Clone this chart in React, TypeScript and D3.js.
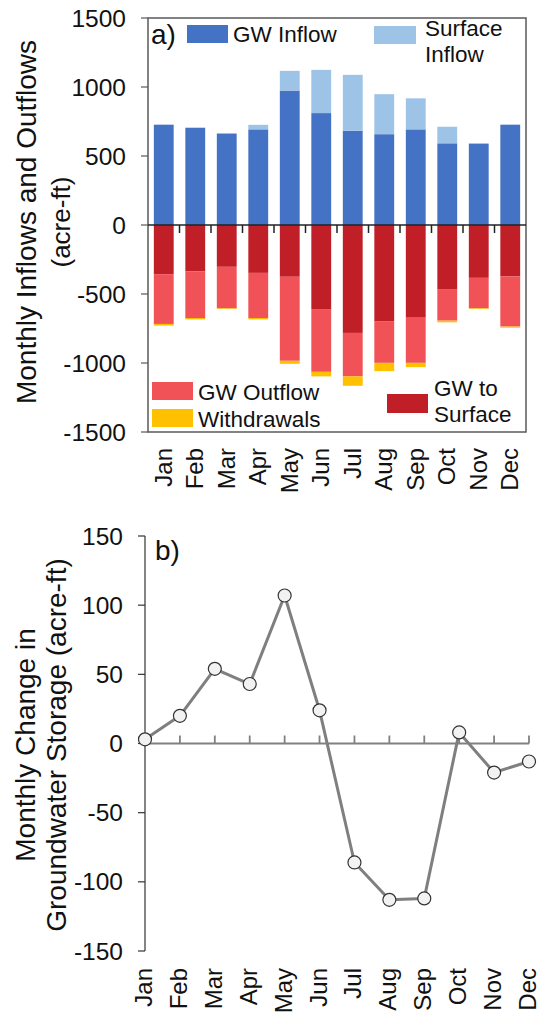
import React from "react";
import * as d3 from "d3";

const months = ["Jan", "Feb", "Mar", "Apr", "May", "Jun", "Jul", "Aug", "Sep", "Oct", "Nov", "Dec"];

// Inflows (acre-ft)
const gwInflow = [727, 705, 663, 693, 974, 811, 683, 658, 693, 592, 590, 727];
const surfaceInflow = [0, 0, 0, 33, 143, 313, 405, 290, 225, 120, 0, 0];

// Outflows (acre-ft), stacked downward from zero in this order
const gwToSurface = [356, 337, 303, 347, 375, 609, 782, 700, 672, 464, 383, 373];
const gwOutflow = [361, 337, 301, 327, 609, 455, 315, 299, 327, 229, 221, 363];
const withdrawals = [12, 10, 5, 10, 22, 33, 68, 60, 31, 12, 5, 8];

// Monthly change in groundwater storage (acre-ft)
const storageChange = [3, 20, 54, 43, 107, 24, -86, -113, -112, 8, -21, -13];

const topTicks = [1500, 1000, 500, 0, -500, -1000, -1500];
const bottomTicks = [150, 100, 50, 0, -50, -100, -150];

const FONT = "'Liberation Sans', Arial, sans-serif";
const FS_TICK = 24.5;
const FS_MONTH = 24;
const FS_LEG = 22.5;
const FS_TITLE = 28;

const C = {
  gwIn: "#4472C4",
  surfIn: "#9DC3E6",
  gwOut: "#F05257",
  gwSurf: "#C11F28",
  withd: "#FFC000",
  axis: "#595959",
  text: "#111",
};

export default function App() {
  // ---- panel a ----
  const aL = 148, aR = 526, aT = 18, aB = 432;
  const xa = d3.scaleBand<string>().domain(months).range([aL, aR]).paddingInner(0.37).paddingOuter(0.185);
  const ya = d3.scaleLinear().domain([-1500, 1500]).range([aB, aT]);
  const bw = xa.bandwidth();

  const bars: React.ReactNode[] = [];
  months.forEach((m, i) => {
    const x = xa(m)!;
    const g = gwInflow[i];
    const s = surfaceInflow[i];
    bars.push(<rect key={"gi" + i} x={x} width={bw} y={ya(g)} height={ya(0) - ya(g)} fill={C.gwIn} />);
    if (s > 0) bars.push(<rect key={"si" + i} x={x} width={bw} y={ya(g + s)} height={ya(g) - ya(g + s)} fill={C.surfIn} />);
    const a1 = gwToSurface[i];
    const a2 = a1 + gwOutflow[i];
    const a3 = a2 + withdrawals[i];
    bars.push(<rect key={"gs" + i} x={x} width={bw} y={ya(0)} height={ya(-a1) - ya(0)} fill={C.gwSurf} />);
    bars.push(<rect key={"go" + i} x={x} width={bw} y={ya(-a1)} height={ya(-a2) - ya(-a1)} fill={C.gwOut} />);
    bars.push(<rect key={"wd" + i} x={x} width={bw} y={ya(-a2)} height={ya(-a3) - ya(-a2)} fill={C.withd} />);
  });

  const bandStep = xa.step();
  const aTickXs = d3.range(1, months.length).map((k) => aL + k * bandStep);

  // ---- panel b ----
  const bL = 145, bR = 529, bT = 536, bB = 951;
  const xb = d3.scalePoint<string>().domain(months).range([bL, bR]);
  const yb = d3.scaleLinear().domain([-150, 150]).range([bB, bT]);
  const line = d3
    .line<number>()
    .x((_, i) => xb(months[i])!)
    .y((d) => yb(d))(storageChange)!;

  return (
    <svg
      width={541}
      height={1016}
      style={{ position: "absolute", left: 0, top: 0, background: "#fff" }}
      fontFamily={FONT}
      fontSize={FS_TICK}
    >
      <rect x={0} y={0} width={541} height={1016} fill="#fff" />

      {/* ===== Panel a ===== */}
      {bars}
      {/* frame */}
      <rect x={aL} y={aT} width={aR - aL} height={aB - aT} fill="none" stroke={C.axis} strokeWidth={1.5} />
      {/* zero line with month ticks */}
      <line x1={aL} x2={aR} y1={ya(0)} y2={ya(0)} stroke="#222" strokeWidth={1.5} />
      {aTickXs.map((x, i) => (
        <line key={"at" + i} x1={x} x2={x} y1={ya(0)} y2={ya(0) + 8} stroke="#222" strokeWidth={1.5} />
      ))}
      {/* y ticks */}
      {topTicks.map((t) => (
        <g key={"ya" + t}>
          <line x1={aL - 7} x2={aL} y1={ya(t)} y2={ya(t)} stroke={C.axis} strokeWidth={1.2} />
          <text x={126} y={ya(t)} dy="0.35em" textAnchor="end" fill={C.text}>
            {t}
          </text>
        </g>
      ))}
      {/* month labels */}
      {months.map((m) => (
        <text
          key={"ma" + m}
          transform={`translate(${xa(m)! + bw / 2},${448}) rotate(-90)`}
          dy="0.33em"
          textAnchor="end"
          fontSize={FS_MONTH}
          fill={C.text}
        >
          {m}
        </text>
      ))}
      {/* y title */}
      <g fontSize={FS_TITLE} fill={C.text} textAnchor="middle">
        <text transform={`translate(36,222) rotate(-90)`}>Monthly Inflows and Outflows</text>
        <text transform={`translate(70,222) rotate(-90)`} fontSize={26}>(acre-ft)</text>
      </g>
      {/* panel tag */}
      <text x={151} y={44} fill={C.text} fontSize={28}>a)</text>
      {/* legends */}
      <g fontSize={FS_LEG} fill={C.text}>
        <rect x={187} y={25} width={41} height={18} fill={C.gwIn} />
        <text x={233} y={42}>GW Inflow</text>
        <rect x={374} y={26} width={42} height={18} fill={C.surfIn} />
        <text x={425} y={36}>Surface</text>
        <text x={425} y={62}>Inflow</text>

        <rect x={152} y={382} width={41} height={18} fill={C.gwOut} />
        <text x={198} y={400}>GW Outflow</text>
        <rect x={152} y={409} width={41} height={18} fill={C.withd} />
        <text x={198} y={427}>Withdrawals</text>
        <rect x={387} y={394} width={41} height={19} fill={C.gwSurf} />
        <text x={434} y={396}>GW to</text>
        <text x={434} y={422}>Surface</text>
      </g>

      {/* ===== Panel b ===== */}
      {/* left axis */}
      <line x1={bL} x2={bL} y1={bT} y2={bB} stroke="#333" strokeWidth={1.2} />
      {bottomTicks.map((t) => (
        <g key={"yb" + t}>
          <line x1={bL - 7} x2={bL} y1={yb(t)} y2={yb(t)} stroke="#333" strokeWidth={1.2} />
          <text x={123} y={yb(t)} dy="0.35em" textAnchor="end" fill={C.text}>
            {t}
          </text>
        </g>
      ))}
      {/* zero line with month ticks */}
      <line x1={bL} x2={bR} y1={yb(0)} y2={yb(0)} stroke="#808080" strokeWidth={1.8} />
      {months.slice(1).map((m) => (
        <line key={"bt" + m} x1={xb(m)!} x2={xb(m)!} y1={yb(0)} y2={yb(0) - 8} stroke="#808080" strokeWidth={1.8} />
      ))}
      <path d={line} fill="none" stroke="#7F7F7F" strokeWidth={3} strokeLinejoin="round" />
      {storageChange.map((v, i) => (
        <circle key={"pt" + i} cx={xb(months[i])!} cy={yb(v)} r={6.5} fill="#F2F2F2" stroke="#333" strokeWidth={1.2} />
      ))}
      {months.map((m) => (
        <text
          key={"mb" + m}
          transform={`translate(${xb(m)!},${968}) rotate(-90)`}
          dy="0.29em"
          textAnchor="end"
          fontSize={FS_MONTH}
          fill={C.text}
        >
          {m}
        </text>
      ))}
      <text x={155} y={560} fill={C.text} fontSize={28}>b)</text>
      <g fontSize={FS_TITLE} fill={C.text} textAnchor="middle">
        <text transform={`translate(35,745) rotate(-90)`}>Monthly Change in</text>
        <text transform={`translate(66,745) rotate(-90)`}>Groundwater Storage (acre-ft)</text>
      </g>
    </svg>
  );
}
